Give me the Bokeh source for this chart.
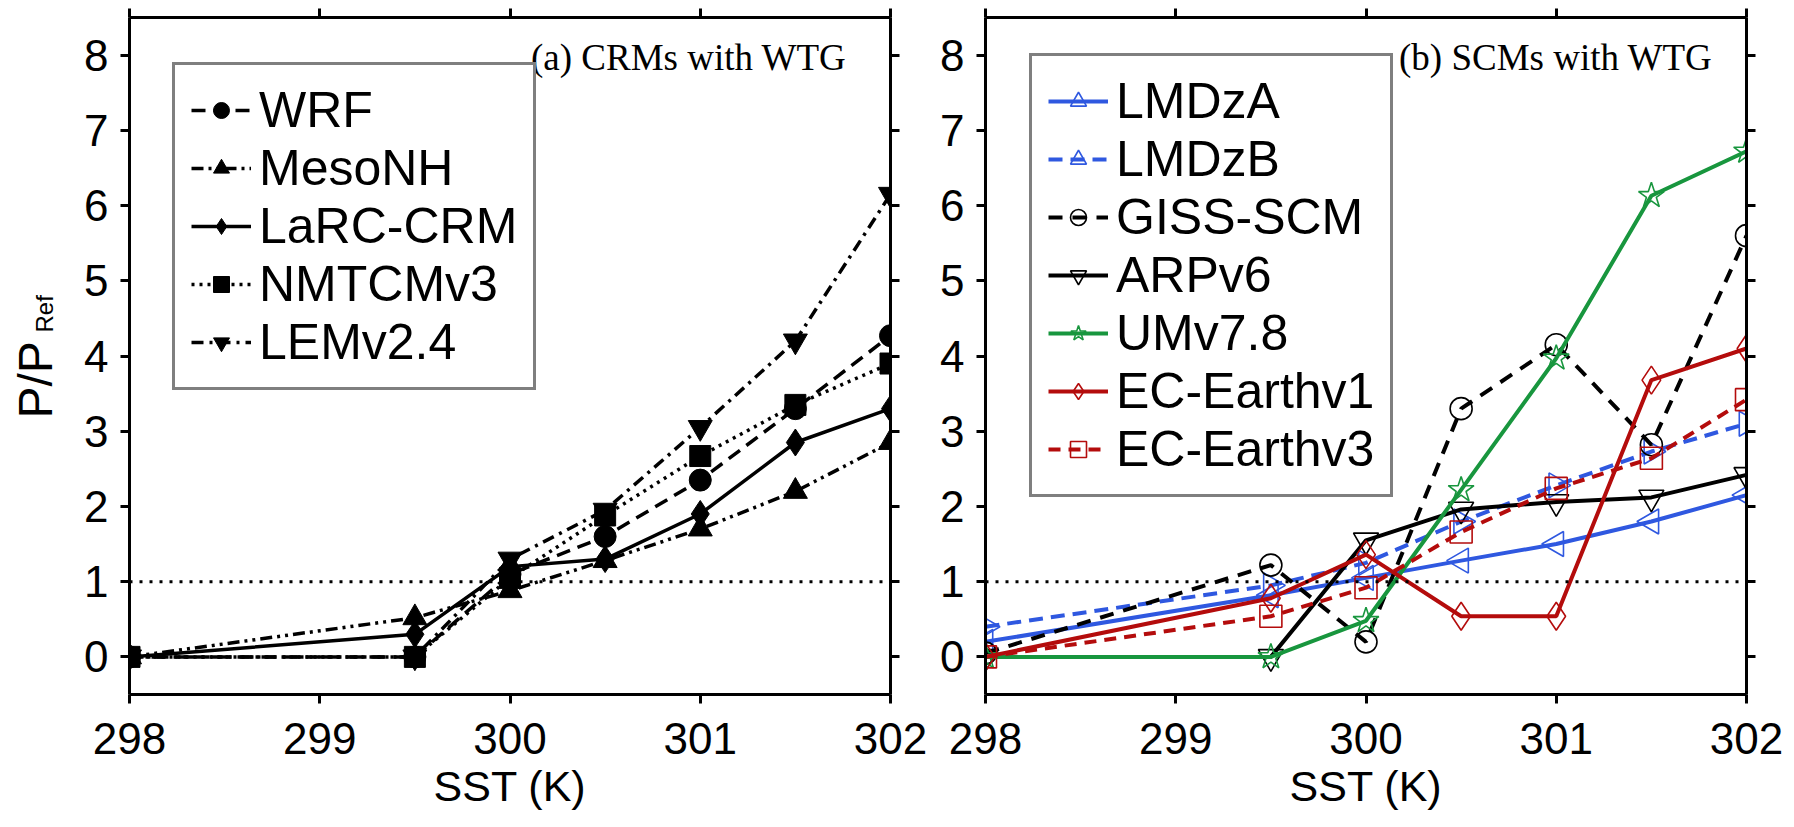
import math
from bokeh.plotting import figure
from bokeh.layouts import row
from bokeh.models import (Range1d, LinearAxis, Span, Legend, LegendItem, Label, FixedTicker)
from bokeh.embed import file_html
from bokeh.resources import INLINE

# ---------------- data ----------------
sst = [298, 299.5, 300, 300.5, 301, 301.5, 302]
x_ticks = [298, 299, 300, 301, 302]
y_ticks = [0, 1, 2, 3, 4, 5, 6, 7, 8]
ref_level = 1

# (a) CRMs with WTG
crm_names = ["WRF", "MesoNH", "LaRC-CRM", "NMTCMv3", "LEMv2.4"]
wrf = [0, 0, 1.1, 1.6, 2.35, 3.3, 4.27]
mesonh = [0, 0.52, 0.88, 1.28, 1.7, 2.2, 2.85]
larc = [0, 0.3, 1.2, 1.3, 1.9, 2.85, 3.3]
nmtcm = [0, 0, 1.05, 1.88, 2.67, 3.35, 3.9]
lem = [0, 0, 1.3, 1.95, 3.05, 4.2, 6.15]

# (b) SCMs with WTG
scm_names = ["LMDzA", "LMDzB", "GISS-SCM", "ARPv6", "UMv7.8", "EC-Earthv1", "EC-Earthv3"]
lmdza = [0.2, 0.82, 1.05, 1.28, 1.5, 1.8, 2.15]
lmdzb = [0.4, 0.95, 1.25, 1.8, 2.28, 2.73, 3.1]
giss = [0.05, 1.22, 0.2, 3.3, 4.15, 2.82, 5.6]
arp = [0, 0, 1.55, 1.96, 2.06, 2.12, 2.42]
um = [0, 0, 0.48, 2.22, 3.97, 6.13, 6.72]
ec1 = [0, 0.78, 1.36, 0.54, 0.54, 3.68, 4.1]
ec3 = [0, 0.54, 0.92, 1.66, 2.24, 2.64, 3.42]

SANS = "Liberation Sans"
SERIF = "Liberation Serif"
BLUE = "#2f58e0"
GREEN = "#18963e"
RED = "#b40c0c"

FW, FH = 761, 677
TOP, BOTTOM = 17, 133
LAB_W = 76


def style_axis(ax, labels=True):
    ax.axis_line_width = 3
    ax.axis_line_color = "black"
    ax.major_tick_line_width = 3
    ax.major_tick_line_color = "black"
    ax.major_tick_out = 9
    ax.major_tick_in = 0
    ax.minor_tick_out = 0
    ax.minor_tick_in = 0
    ax.major_label_text_font = SANS
    if labels:
        ax.major_label_text_color = "black"
        ax.major_label_text_font_size = "44px"
        ax.major_label_standoff = 19
    else:
        ax.major_label_text_color = None
        ax.major_label_text_font_size = "1px"
        ax.major_label_standoff = 0


def make_fig(bl, br):
    p = figure(frame_width=FW, frame_height=FH,
               x_range=Range1d(298, 302), y_range=Range1d(-0.5, 8.5),
               output_backend="svg", toolbar_location=None,
               min_border_left=bl, min_border_right=br,
               min_border_top=TOP, min_border_bottom=BOTTOM,
               background_fill_color="white", border_fill_color="white")
    p.grid.visible = False
    p.outline_line_color = None
    p.xaxis.ticker = FixedTicker(ticks=x_ticks)
    p.yaxis.ticker = FixedTicker(ticks=y_ticks)
    style_axis(p.xaxis[0])
    style_axis(p.yaxis[0])
    p.yaxis[0].major_label_standoff = 12
    p.xaxis.axis_label = "SST (K)"
    p.xaxis.axis_label_text_font = SANS
    p.xaxis.axis_label_text_color = "black"
    p.xaxis.axis_label_text_font_size = "43px"
    p.xaxis.axis_label_text_font_style = "normal"
    p.xaxis.axis_label_standoff = 5
    top = LinearAxis(ticker=FixedTicker(ticks=x_ticks))
    right = LinearAxis(ticker=FixedTicker(ticks=y_ticks))
    style_axis(top, False)
    style_axis(right, False)
    p.add_layout(top, "above")
    p.add_layout(right, "right")
    p.add_layout(Span(location=ref_level, dimension="width", line_color="black",
                      line_width=3, line_dash="3 7"))
    return p


def series(p, y, color, dash, width, marker, size, filled, angle=0.0, lw_marker=1.6):
    r_line = p.line(sst, y, line_color=color, line_width=width, line_dash=dash)
    if filled:
        r_m = p.scatter(sst, y, marker=marker, size=size, angle=angle,
                        fill_color=color, line_color=color, line_width=1)
    else:
        r_m = p.scatter(sst, y, marker=marker, size=size, angle=angle,
                        fill_alpha=0, line_color=color, line_width=lw_marker)
    return [r_line, r_m]


def style_legend(lg):
    lg.border_line_color = "black"
    lg.border_line_width = 3
    lg.background_fill_color = "white"
    lg.background_fill_alpha = 1
    lg.label_text_font = SANS
    lg.label_text_font_size = "50px"
    lg.label_text_color = "black"
    lg.label_text_line_height = 1.0
    lg.glyph_width = 60
    lg.glyph_height = 40
    lg.label_standoff = 8
    lg.label_height = 53
    lg.spacing = 0
    lg.padding = 16
    lg.margin = 0


# ---------------- y-axis title strip ----------------
plab = figure(frame_width=LAB_W, frame_height=FH, x_range=Range1d(0, 1), y_range=Range1d(0, 1),
              output_backend="svg", toolbar_location=None,
              x_axis_type=None, y_axis_type=None,
              min_border_left=0, min_border_right=0,
              min_border_top=TOP, min_border_bottom=BOTTOM,
              background_fill_color="white", border_fill_color="white")
plab.grid.visible = False
plab.outline_line_color = None
plab.add_layout(Label(x=35, y=FH + TOP - 418, x_units="screen", y_units="screen",
                      text="P/P", angle=math.pi / 2, text_font=SANS, text_font_size="48px",
                      text_align="left", text_baseline="middle", text_color="black"))
plab.add_layout(Label(x=44, y=FH + TOP - 332, x_units="screen", y_units="screen",
                      text="Ref", angle=math.pi / 2, text_font=SANS, text_font_size="24px",
                      text_align="left", text_baseline="middle", text_color="black"))

# ---------------- panel (a) ----------------
p1 = make_fig(129 - LAB_W, 47)
crm_series = [
    (wrf, "black", "14 8", 3.5, "circle", 22, True),
    (mesonh, "black", "12 5 3 5 3 5", 3.5, "triangle", 24, True),
    (larc, "black", "solid", 3.5, "diamond", 27, True),
    (nmtcm, "black", "3 5", 3.5, "square", 21, True),
    (lem, "black", "12 6 3 6", 3.5, "inverted_triangle", 24, True),
]
items1 = []
for name, (y, c, d, w, m, s, f) in zip(crm_names, crm_series):
    items1.append(LegendItem(label=name, renderers=series(p1, y, c, d, w, m, s, f)))
lg1 = Legend(items=items1, location=(43, 304))
style_legend(lg1)
p1.add_layout(lg1)

p1.add_layout(Label(x=FW - 44, y=FH + TOP - 57, x_units="screen", y_units="screen",
                    text="(a) CRMs with WTG", text_font=SERIF, text_font_size="37px",
                    text_align="right", text_baseline="middle", text_color="black"))

# ---------------- panel (b) ----------------
p2 = make_fig(48, 48)
scm_series = [
    (lmdza, BLUE, "solid", 4, "triangle", 25, False, math.pi / 2),
    (lmdzb, BLUE, "14 8", 4, "triangle", 25, False, -math.pi / 2),
    (giss, "black", "14 10", 4, "circle", 22, False, 0.0),
    (arp, "black", "solid", 4, "inverted_triangle", 25, False, 0.0),
    (um, GREEN, "solid", 4, "star", 27, False, 0.0),
    (ec1, RED, "solid", 4, "diamond", 28, False, 0.0),
    (ec3, RED, "12 8", 4, "square", 22, False, 0.0),
]
items2 = []
for name, (y, c, d, w, m, s, f, a) in zip(scm_names, scm_series):
    items2.append(LegendItem(label=name, renderers=series(p2, y, c, d, w, m, s, f, angle=a)))
lg2 = Legend(items=items2, location=(44, 197))
style_legend(lg2)
p2.add_layout(lg2)

p2.add_layout(Label(x=FW - 34, y=FH + TOP - 57, x_units="screen", y_units="screen",
                    text="(b) SCMs with WTG", text_font=SERIF, text_font_size="37px",
                    text_align="right", text_baseline="middle", text_color="black"))

layout = row(plab, p1, p2)
open("out.html", "w").write(file_html(layout, INLINE))
